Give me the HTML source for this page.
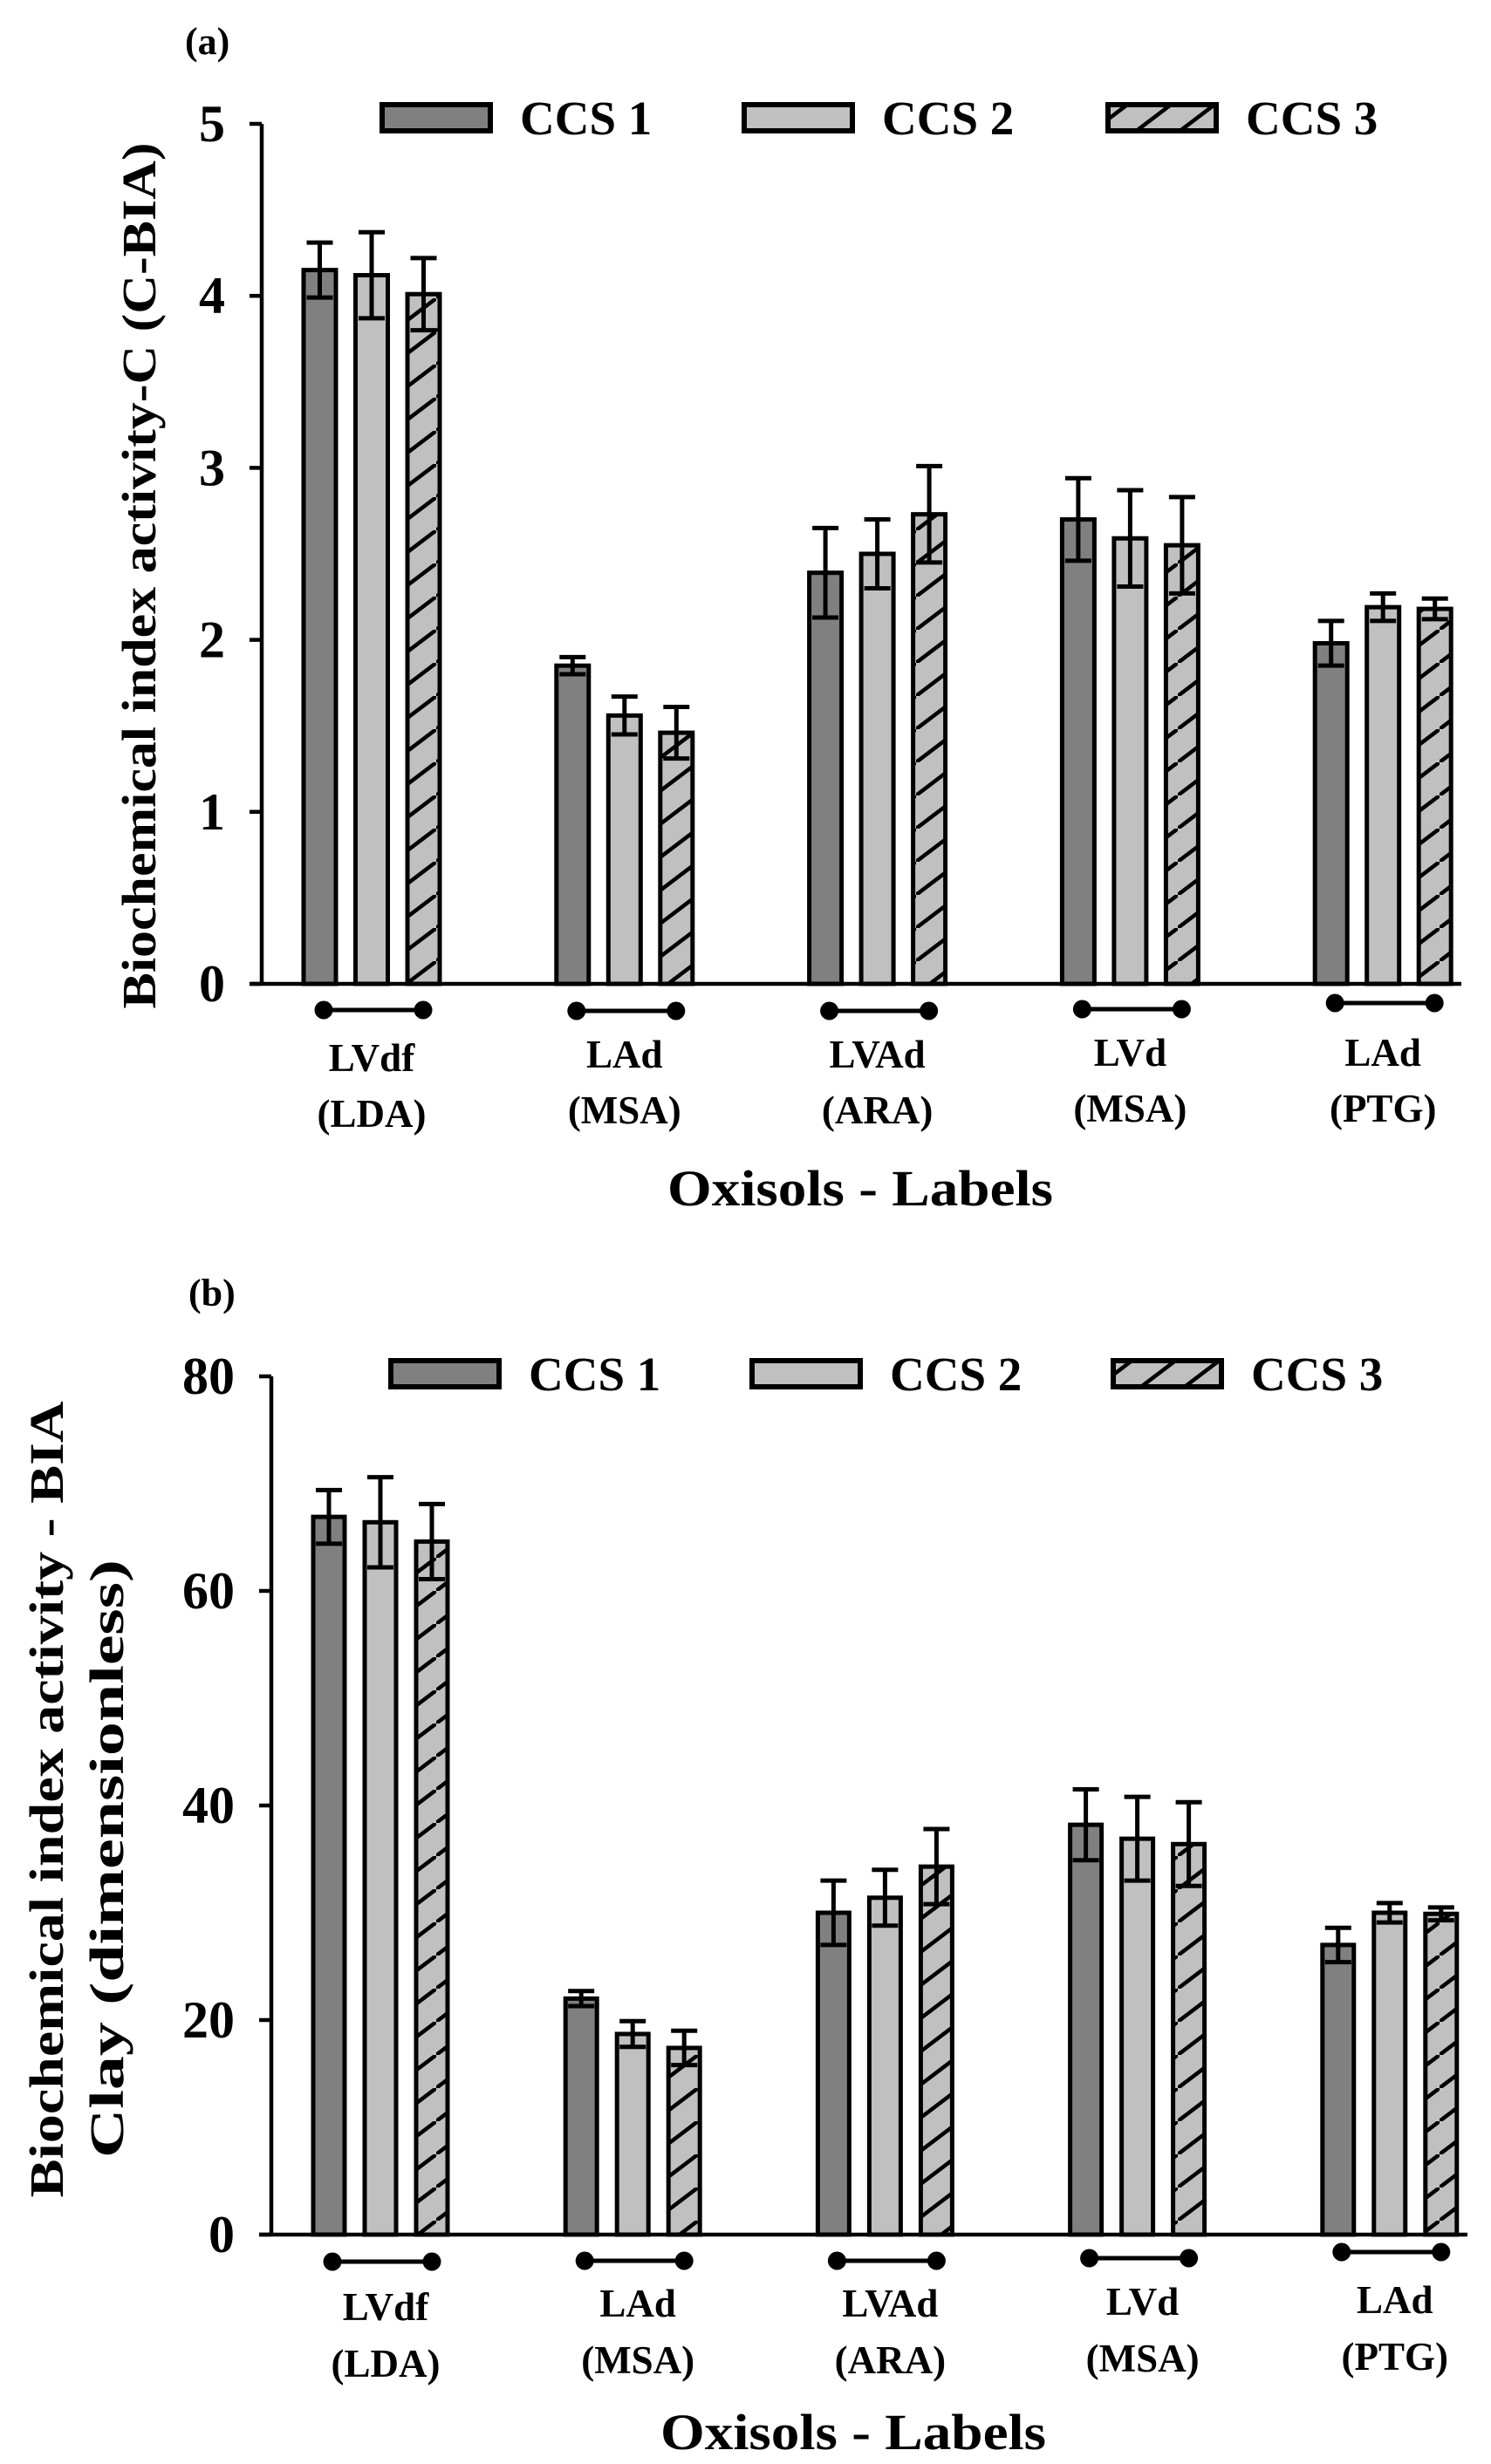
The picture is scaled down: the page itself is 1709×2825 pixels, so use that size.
<!DOCTYPE html>
<html><head><meta charset="utf-8"><style>
html,body{margin:0;padding:0;background:#fff;}
svg{display:block;}
text{font-family:"Liberation Serif","Times New Roman",serif;fill:#000;}
</style></head><body>
<svg id="fig" width="1709" height="2825" viewBox="0 0 1709 2825" xmlns="http://www.w3.org/2000/svg">
<defs>
<pattern id="hatch" patternUnits="userSpaceOnUse" width="50" height="38">
<rect width="50" height="38" fill="#c0c0c0"/>
<line x1="-2" y1="39.5" x2="52" y2="-1.5" stroke="#000" stroke-width="4.5"/>
</pattern>
</defs>
</svg>
<script>
const categories = ["LVdf|(LDA)", "LAd|(MSA)", "LVAd|(ARA)", "LVd|(MSA)", "LAd|(PTG)"];
const seriesNames = ["CCS 1", "CCS 2", "CCS 3"];
const aCCS1 = [4.15, 1.85, 2.39, 2.70, 1.98];
const aCCS2 = [4.12, 1.56, 2.50, 2.59, 2.19];
const aCCS3 = [4.01, 1.46, 2.73, 2.55, 2.18];
const aErr1 = [0.16, 0.05, 0.26, 0.24, 0.13];
const aErr2 = [0.25, 0.11, 0.20, 0.28, 0.08];
const aErr3 = [0.21, 0.15, 0.28, 0.28, 0.06];
const aTicks = [0, 1, 2, 3, 4, 5];
const bCCS1 = [66.9, 22.0, 30.0, 38.2, 27.0];
const bCCS2 = [66.4, 18.7, 31.4, 36.9, 30.0];
const bCCS3 = [64.6, 17.4, 34.3, 36.4, 29.9];
const bErr1 = [2.5, 0.7, 3.0, 3.3, 1.6];
const bErr2 = [4.2, 1.2, 2.6, 3.9, 0.9];
const bErr3 = [3.5, 1.6, 3.5, 3.9, 0.6];
const bTicks = [0, 20, 40, 60, 80];

const NS = "http://www.w3.org/2000/svg";
const svg = document.getElementById("fig");
const FONT = "Liberation Serif, Times New Roman, serif";
function el(tag, attrs, parent, txt){
  const e = document.createElementNS(NS, tag);
  for (const k in attrs) e.setAttribute(k, attrs[k]);
  if (tag === "text") e.setAttribute("font-family", FONT);
  if (txt !== undefined) e.textContent = txt;
  (parent || svg).appendChild(e);
  return e;
}
const fills = ["#808080", "#c0c0c0", "url(#hatch)"];

function panel(cfg){
  const g = el("g", {});
  
  
  const y = v => cfg.y0 - v * (cfg.y0 - cfg.yTop) / cfg.max;
  const x = i => cfg.x0 + i * cfg.pitch;
  const lt = el("text", {x: cfg.letterX, y: cfg.letterY, "font-size": 44, "font-weight": "bold"}, g, cfg.letter);
  
  
  const vals = cfg.vals, errs = cfg.errs;
  for (let i = 0; i < categories.length; i++) {
    for (let s = 0; s < 3; s++) {
      const cx = x(i) + (s - 1) * cfg.barPitch;
      const v = vals[s][i], e = errs[s][i];
      const r = el("rect", {x: cx - cfg.bw/2, y: y(v), width: cfg.bw, height: cfg.y0 - y(v), fill: fills[s], stroke: "#000", "stroke-width": 5}, g);
      
      
      const eb = el("path", {d: "M" + cx + "," + y(v - e) + "V" + y(v + e) + "M" + (cx - 15) + "," + y(v + e) + "H" + (cx + 15) + "M" + (cx - 15) + "," + y(v - e) + "H" + (cx + 15), stroke: "#000", "stroke-width": 5, fill: "none"}, g);
      
      
    }
    const dy = cfg.dumbY[i], dc = x(i) + cfg.dumbOff;
    const db = el("g", {}, g);
    
    
    el("line", {x1: dc - 57, x2: dc + 57, y1: dy, y2: dy, stroke: "#000", "stroke-width": 5}, db);
    el("circle", {cx: dc - 57, cy: dy, r: 10.5, fill: "#000"}, db);
    el("circle", {cx: dc + 57, cy: dy, r: 10.5, fill: "#000"}, db);
    const parts = categories[i].split("|");
    const t1 = el("text", {x: x(i) + cfg.labOff, y: cfg.lab1Y + cfg.labDy[i], "font-size": 45, "font-weight": "bold", "text-anchor": "middle"}, g, parts[0]);
    
    
    const t2 = el("text", {x: x(i) + cfg.labOff, y: cfg.lab2Y + cfg.labDy[i], "font-size": 45, "font-weight": "bold", "text-anchor": "middle"}, g, parts[1]);
    
    
  }
  const ax = el("path", {d: "M" + cfg.axX + "," + (cfg.yTop) + "V" + cfg.y0 + "M" + (cfg.axX - 14) + "," + cfg.y0 + "H" + cfg.axEnd, stroke: "#000", "stroke-width": 4.5, fill: "none"}, g);
  
  
  cfg.ticks.forEach(t => {
    const tk = el("line", {x1: cfg.axX - 14, x2: cfg.axX, y1: y(t), y2: y(t), stroke: "#000", "stroke-width": 4.5}, g);
    
    
    const tl = el("text", {x: cfg.axX - 42, y: y(t) + 20, "font-size": 60, "font-weight": cfg.tickWeight, "text-anchor": "end"}, g, String(t));
    
    
  });
  for (let s = 0; s < 3; s++) {
    const lx = cfg.legX[s];
    const lg = el("g", {}, g);
    
    
    el("rect", {x: lx, y: cfg.legY, width: 124, height: 30, fill: fills[s], stroke: "#000", "stroke-width": 6}, lg);
    el("text", {x: lx + 158, y: cfg.legY + 34, "font-size": 55, "font-weight": "bold"}, lg, seriesNames[s]);
  }
  cfg.yTitles.forEach(tt => {
    const yt = el("text", {x: 0, y: 0, "font-size": 55, "font-weight": "bold", "text-anchor": "middle", transform: "translate(" + tt.x + "," + tt.cy + ") rotate(-90)", textLength: tt.len, lengthAdjust: "spacingAndGlyphs"}, g, tt.t);
    
    
  });
  const xt = el("text", {x: cfg.xtX, y: cfg.xtY, "font-size": 58, "font-weight": "bold", "text-anchor": "middle", textLength: 442, lengthAdjust: "spacingAndGlyphs"}, g, "Oxisols - Labels");
  
  
}

panel({
  name: "panel-a-chart", letter: "(a)", letterX: 212, letterY: 62,
  vals: [aCCS1, aCCS2, aCCS3], errs: [aErr1, aErr2, aErr3], ticks: aTicks, max: 5,
  y0: 1128, yTop: 142, x0: 426, pitch: 289.8, barPitch: 59.5, bw: 37,
  axX: 300, axEnd: 1675, tickWeight: "bold",
  dumbY: [1158, 1159, 1159, 1157, 1150], dumbOff: 2,
  lab1Y: 1228, lab2Y: 1292, labDy: [0, -4, -4, -6, -6], labOff: 0,
  legX: [438, 853, 1270], legY: 120,
  yTitles: [{t: "Biochemical index activity-C (C-BIA)", x: 178, cy: 660, len: 993}],
  xtX: 986, xtY: 1382
});
panel({
  name: "panel-b-chart", letter: "(b)", letterX: 216, letterY: 1497,
  vals: [bCCS1, bCCS2, bCCS3], errs: [bErr1, bErr2, bErr3], ticks: bTicks, max: 80,
  y0: 2562, yTop: 1578, x0: 436, pitch: 289.2, barPitch: 59, bw: 36,
  axX: 311, axEnd: 1682, tickWeight: "bold",
  dumbY: [2593, 2592, 2592, 2589, 2582], dumbOff: 2,
  lab1Y: 2660, lab2Y: 2725, labDy: [0, -4, -4, -6, -8], labOff: 6,
  legX: [448, 862, 1276], legY: 1560,
  yTitles: [{t: "Biochemical index activity - BIA", x: 72, cy: 2063, len: 913},
            {t: "Clay (dimensionless)", x: 141, cy: 2131, len: 686}],
  xtX: 978, xtY: 2808
});
</script>
</body></html>
